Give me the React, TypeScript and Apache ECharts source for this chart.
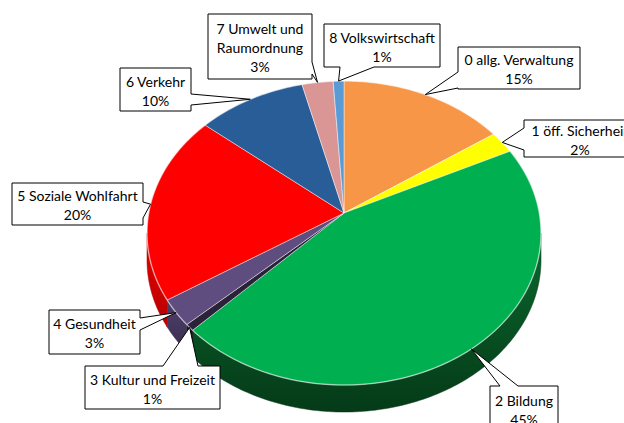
import React, { useEffect, useRef } from "react";
import * as echarts from "echarts";

// ---- data ----
const categories = [
  "0 allg. Verwaltung",
  "1 öff. Sicherheit",
  "2 Bildung",
  "3 Kultur und Freizeit",
  "4 Gesundheit",
  "5 Soziale Wohlfahrt",
  "6 Verkehr",
  "7 Umwelt und Raumordnung",
  "8 Volkswirtschaft",
];
const labelTexts = [
  "0 allg. Verwaltung",
  "1 öff. Sicherheit",
  "2 Bildung",
  "3 Kultur und Freizeit",
  "4 Gesundheit",
  "5 Soziale Wohlfahrt",
  "6 Verkehr",
  "7 Umwelt und\nRaumordnung",
  "8 Volkswirtschaft",
];
const values = [15.4, 2.4, 44.6, 0.7, 2.8, 20.1, 10.1, 2.9, 1.0];

// ---- styles ----
const topColors = ["#F79646", "#FFFF00", "#00B050", "#2A2238", "#5F4D80", "#FF0000", "#285D98", "#D99694", "#5B9BD5"];
const sideTop = ["#C0702F", "#C8C800", "#0B6A2E", "#1A1424", "#4E3F6A", "#E80000", "#1A4272", "#A66E6C", "#3F77A8"];
const sideBottom = ["#8A4E1F", "#909000", "#053A18", "#100C16", "#3A2E50", "#B80000", "#102C4E", "#7A4E4C", "#2A5478"];

// ---- layout (perspective of the pie, callout boxes) ----
const CX = 344, CY = 213, SX = 195.3, TY = 149.4, K = 0.1316, DEPTH = 27;
// [x, y, w, h, side, a, b]
const boxes: [number, number, number, number, string, number, number][] = [
  [458, 47, 122, 42, "L", 25, 41],
  [524, 120, 112, 37, "L", 8, 30],
  [490, 386, 68, 45, "T", 10, 28],
  [85, 366, 135, 43, "T", 78, 113],
  [49, 310, 91, 44, "R", 8, 20],
  [12, 183, 131, 42, "R", 19, 35],
  [120, 68, 71, 43, "R", 26, 37],
  [208, 14, 104, 65, "R", 48, 60],
  [324, 24, 116, 43, "B", 16, 50],
];

function proj(theta: number, dy = 0): [number, number] {
  const u = Math.sin(theta), v = Math.cos(theta);
  const w = 1 + K * v;
  return [CX + (SX * u) / w, CY - (TY * v) / w + dy];
}

function arcPoints(a0: number, a1: number, dy = 0): [number, number][] {
  const pts: [number, number][] = [];
  const n = Math.max(2, Math.ceil(((a1 - a0) * 180) / Math.PI));
  for (let j = 0; j <= n; j++) pts.push(proj(a0 + ((a1 - a0) * j) / n, dy));
  return pts;
}

export default function App() {
  const ref = useRef<HTMLDivElement>(null);
  useEffect(() => {
    if (!ref.current) return;
    const chart = echarts.init(ref.current, undefined, { renderer: "svg" });
    const total = values.reduce((s, v) => s + v, 0);
    const starts: number[] = [];
    const ends: number[] = [];
    let acc = 0;
    values.forEach((v) => {
      starts.push((acc / total) * Math.PI * 2);
      acc += v;
      ends.push((acc / total) * Math.PI * 2);
    });
    const vis0 = Math.atan2(Math.sqrt(1 - K * K), -K);
    const vis1 = Math.PI * 2 - vis0;

    const data = values.map((v, i) => ({ name: categories[i], value: v }));

    const option: any = {
      animation: false,
      backgroundColor: "#ffffff",
      series: [
        {
          type: "custom",
          coordinateSystem: "none",
          z: 1,
          data,
          renderItem: (params: any) => {
            const i = params.dataIndex;
            const a0 = Math.max(starts[i], vis0);
            const a1 = Math.min(ends[i], vis1);
            if (a1 <= a0) return { type: "group", children: [] };
            const top = arcPoints(a0, a1, 0);
            const bot = arcPoints(a0, a1, DEPTH).reverse();
            return {
              type: "polygon",
              shape: { points: top.concat(bot) },
              style: {
                fill: new echarts.graphic.LinearGradient(0, 0, 0, 1, [
                  { offset: 0, color: sideTop[i] },
                  { offset: 1, color: sideBottom[i] },
                ]),
                stroke: sideBottom[i],
                lineWidth: 0.5,
              },
            };
          },
        },
        {
          type: "custom",
          coordinateSystem: "none",
          z: 2,
          data,
          renderItem: (params: any) => {
            const i = params.dataIndex;
            const arc = arcPoints(starts[i], ends[i], 0);
            const pts = [[CX, CY] as [number, number]].concat(arc);
            return {
              type: "group",
              children: [
                {
                  type: "polygon",
                  shape: { points: pts },
                  style: { fill: topColors[i], stroke: "rgba(255,255,255,0.55)", lineWidth: 0.8 },
                },
                {
                  type: "polyline",
                  shape: { points: arc },
                  style: { fill: null, stroke: "rgba(255,255,255,0.35)", lineWidth: 1.5 },
                },
              ],
            };
          },
        },
        {
          type: "custom",
          coordinateSystem: "none",
          z: 3,
          data,
          renderItem: (params: any) => {
            const i = params.dataIndex;
            const mid = (starts[i] + ends[i]) / 2;
            const anchor = proj(mid);
            const [x, y, w, h, side, a, b] = boxes[i];
            const TL = [x, y], TR = [x + w, y], BR = [x + w, y + h], BL = [x, y + h];
            let pts: number[][];
            if (side === "T") pts = [TL, [x + a, y], anchor, [x + b, y], TR, BR, BL];
            else if (side === "R") pts = [TL, TR, [x + w, y + a], anchor, [x + w, y + b], BR, BL];
            else if (side === "B") pts = [TL, TR, BR, [x + b, y + h], anchor, [x + a, y + h], BL];
            else pts = [TL, TR, BR, BL, [x, y + b], anchor, [x, y + a]];
            const pct = Math.round((values[i] / total) * 100) + "%";
            return {
              type: "group",
              children: [
                {
                  type: "polygon",
                  shape: { points: pts },
                  style: { fill: "#ffffff", stroke: "#000000", lineWidth: 1 },
                },
                {
                  type: "text",
                  style: {
                    text: labelTexts[i] + "\n" + pct,
                    x: x + w / 2,
                    y: y + h / 2 + 1,
                    align: "center",
                    verticalAlign: "middle",
                    font: "14px Lato",
                    lineHeight: 19,
                    fill: "#000000",
                  },
                },
              ],
            };
          },
        },
      ],
    };
    chart.setOption(option);
    return () => chart.dispose();
  }, []);
  return (
    <div
      ref={ref}
      style={{ position: "absolute", left: 0, top: 0, width: 624, height: 423 }}
    />
  );
}
